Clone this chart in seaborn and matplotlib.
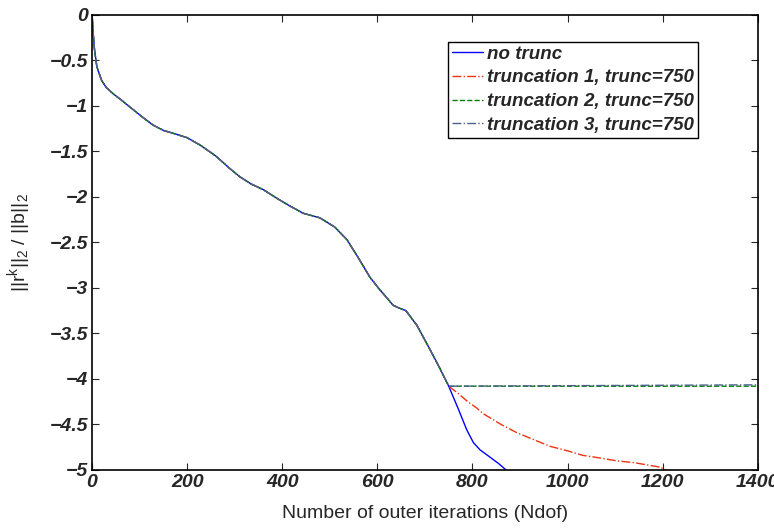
import numpy as np
import pandas as pd
import matplotlib
matplotlib.use("Agg")
import matplotlib.pyplot as plt
import seaborn as sns

# ---- data ----
shared_x = [0, 2, 5, 10, 20, 30, 45, 60, 86, 110, 128, 150, 170, 200, 227, 260, 290,
            311, 335, 360, 390, 416, 444, 479, 510, 536, 560, 584, 605, 620, 633, 645,
            660, 683, 711, 730, 750]
shared_y = [0.0, -0.18, -0.38, -0.57, -0.72, -0.80, -0.87, -0.93, -1.04, -1.14, -1.21,
            -1.27, -1.30, -1.35, -1.43, -1.55, -1.69, -1.78, -1.86, -1.92, -2.02, -2.10,
            -2.18, -2.23, -2.33, -2.47, -2.67, -2.88, -3.02, -3.11, -3.19, -3.22, -3.25,
            -3.41, -3.68, -3.87, -4.08]

notrunc_tail_x = [771, 788, 802, 816, 837, 855, 875]
notrunc_tail_y = [-4.34, -4.56, -4.70, -4.78, -4.86, -4.93, -5.02]

trunc1_tail_x = [770, 790, 809, 822, 860, 893, 930, 963, 1000, 1032, 1070, 1103, 1140,
                 1173, 1195, 1215]
trunc1_tail_y = [-4.16, -4.25, -4.32, -4.38, -4.50, -4.59, -4.67, -4.74, -4.79, -4.84,
                 -4.87, -4.90, -4.92, -4.95, -4.97, -5.02]

trunc2_tail_x = [1400]
trunc2_tail_y = [-4.08]
trunc3_tail_x = [1400]
trunc3_tail_y = [-4.065]

labels = ["no trunc", "truncation 1, trunc=750", "truncation 2, trunc=750",
          "truncation 3, trunc=750"]
xticks = [0, 200, 400, 600, 800, 1000, 1200, 1400]
yticks = [0, -0.5, -1, -1.5, -2, -2.5, -3, -3.5, -4, -4.5, -5]
ytick_labels = ["0", "\u22120.5", "\u22121", "\u22121.5", "\u22122", "\u22122.5", "\u22123",
                "\u22123.5", "\u22124", "\u22124.5", "\u22125"]

sns.set_style("ticks")
plt.rcParams["font.family"] = ["Liberation Sans", "DejaVu Sans"]
plt.rcParams["mathtext.fontset"] = "custom"
plt.rcParams["mathtext.rm"] = "Liberation Sans"
plt.rcParams["mathtext.it"] = "Liberation Sans:italic"

series = [
    (shared_x + notrunc_tail_x, shared_y + notrunc_tail_y),
    (shared_x + trunc1_tail_x, shared_y + trunc1_tail_y),
    (shared_x + trunc2_tail_x, shared_y + trunc2_tail_y),
    (shared_x + trunc3_tail_x, shared_y + trunc3_tail_y),
]
frames = []
for lab, (xs, ys) in zip(labels, series):
    frames.append(pd.DataFrame({"x": xs, "y": ys, "series": lab}))
df = pd.concat(frames, ignore_index=True)

fig = plt.figure(figsize=(7.74, 5.31), dpi=100)
ax = fig.add_axes([0.119, 0.115, 0.860, 0.857])

colors = ["#0000ff", "#ee3311", "#008000", "#4a6290"]
styles = ["-", "-.", "--", "-."]
for lab, c, ls in zip(labels, colors, styles):
    sub = df[df["series"] == lab]
    sns.lineplot(data=sub, x="x", y="y", ax=ax, color=c, linestyle=ls, linewidth=1.0,
                 label=lab, sort=False, estimator=None)

ax.set_xlim(0, 1400)
ax.set_ylim(-5, 0)
ax.set_xticks(xticks)
ax.set_xticklabels([str(t) for t in xticks])
ax.set_yticks(yticks)
ax.set_yticklabels(ytick_labels)
for lbl in ax.get_xticklabels() + ax.get_yticklabels():
    lbl.set_fontsize(14)
    lbl.set_fontweight("bold")
    lbl.set_fontstyle("italic")
ax.tick_params(direction="in", length=5, width=0.8, top=True, right=True, pad=3)
for sp in ax.spines.values():
    sp.set_visible(True)
    sp.set_linewidth(1.2)
    sp.set_color("black")

ax.set_xlabel("Number of outer iterations (Ndof)", fontsize=14, labelpad=10)
ax.set_ylabel(r"$\mathregular{||r^k||_2\ /\ ||b||_2}$", fontsize=14, labelpad=12)

leg = ax.legend(loc="upper right", bbox_to_anchor=(0.910, 0.9407), frameon=True,
                fancybox=False, edgecolor="black", framealpha=1, handlelength=1.7,
                handletextpad=0.2, borderpad=0.2, labelspacing=0.35, borderaxespad=0,
                prop={"size": 13.5, "weight": "bold", "style": "italic"})
leg.get_frame().set_linewidth(1.0)

fig.savefig("out.png", dpi=100)
